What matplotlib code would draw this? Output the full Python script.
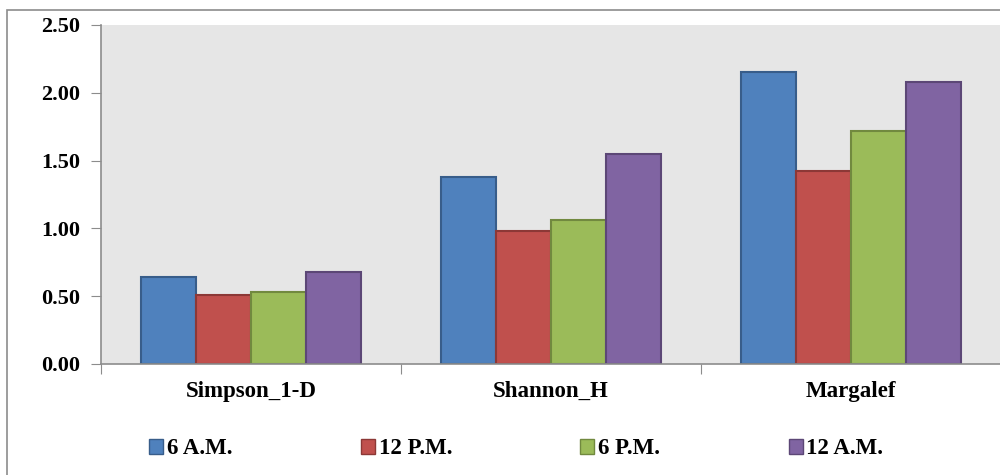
import numpy as np
import matplotlib
matplotlib.use('Agg')
import matplotlib.pyplot as plt
from matplotlib.patches import Rectangle, Patch

categories = ['Simpson_1-D', 'Shannon_H', 'Margalef']
series_names = ['6 A.M.', '12 P.M.', '6 P.M.', '12 A.M.']
am6 = [0.64, 1.38, 2.15]
pm12 = [0.51, 0.98, 1.42]
pm6 = [0.53, 1.06, 1.72]
am12 = [0.68, 1.55, 2.08]

fills = ['#4F81BD', '#C0504D', '#9BBB59', '#8064A2']
edges = ['#385D8A', '#8C3836', '#71893F', '#5C4776']

plt.rcParams['font.family'] = ['Liberation Serif', 'DejaVu Serif']
plt.rcParams['font.weight'] = 'bold'

fig = plt.figure(figsize=(10, 4.75), dpi=100)
fig.patches.append(Rectangle((0.007, -0.05), 1.1, 1.03, transform=fig.transFigure,
                             fill=False, edgecolor='#8C8C8C', linewidth=1.2))
ax = fig.add_axes([0.101, 0.2337, 0.9, 0.7137])
ax.set_facecolor('#E6E6E6')

x = np.arange(len(categories))
w = 0.183
for i, vals in enumerate([am6, pm12, pm6, am12]):
    ax.bar(x + (i - 1.5) * w, vals, w, color=fills[i], edgecolor=edges[i],
           linewidth=1.5, label=series_names[i])

ax.set_xlim(-0.5, 2.5)
ax.set_ylim(0, 2.5)
yt = np.arange(0, 2.51, 0.5)
ax.set_yticks(yt)
ax.set_yticklabels([f'{v:.2f}' for v in yt], fontsize=16, fontweight='bold')
ax.set_xticks([-0.5, 0.5, 1.5, 2.5])
ax.set_xticklabels([])
ax.set_xticks(x, minor=True)
ax.set_xticklabels(categories, minor=True, fontsize=16.5, fontweight='bold')
ax.tick_params(axis='x', which='minor', length=0, pad=12)
ax.tick_params(axis='x', which='major', length=7, color='#8C8C8C')
ax.tick_params(axis='y', length=7, color='#8C8C8C', pad=8)
for s in ['top', 'right']:
    ax.spines[s].set_visible(False)
for s in ['left', 'bottom']:
    ax.spines[s].set_color('#8C8C8C')
    ax.spines[s].set_linewidth(1.2)

handles = [Patch(facecolor=fills[i], edgecolor=edges[i], linewidth=1) for i in range(4)]
fig.legend(handles, series_names, loc='center left', bbox_to_anchor=(0.149, 0.055),
           ncol=4, frameon=False, borderpad=0, borderaxespad=0,
           handlelength=0.61, handleheight=0.61, handletextpad=0.17,
           columnspacing=5.6, prop={'size': 16.5, 'weight': 'bold'})

fig.savefig('out.png', dpi=100)
